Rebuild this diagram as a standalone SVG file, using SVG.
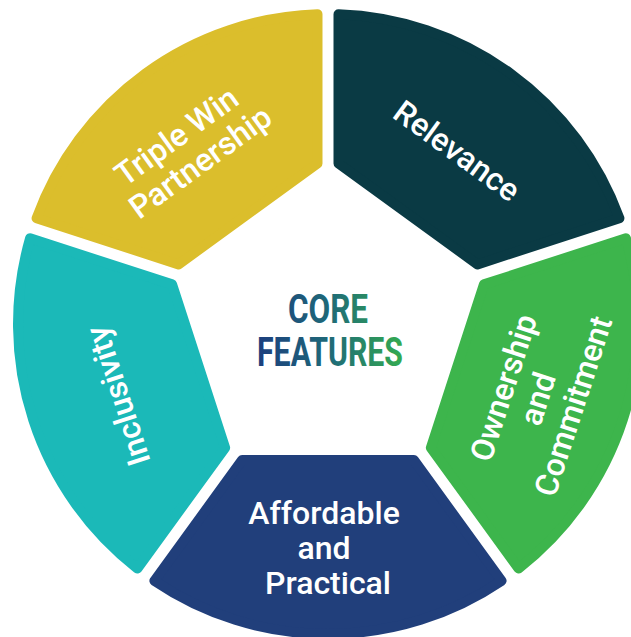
<svg xmlns="http://www.w3.org/2000/svg" width="631" height="637" viewBox="0 0 631 637">
  <style>
    .seg { stroke-width: 10; stroke-linejoin: round; }
    .yellow { fill: #DBBE2C; stroke: #DBBE2C; }
    .teal { fill: #0A3A44; stroke: #0A3A44; }
    .green { fill: #3DB54C; stroke: #3DB54C; }
    .blue { fill: #213F7B; stroke: #213F7B; }
    .cyan { fill: #1BB9B8; stroke: #1BB9B8; }
    .lbl { font-family: Roboto, "Liberation Sans", sans-serif; font-size: 32px; font-weight: 500; fill: #FFFFFF; text-anchor: middle; }
    .core { font-family: Roboto, "Liberation Sans", sans-serif; font-size: 41px; font-weight: 700; fill: url(#coreGrad); text-anchor: middle; }
  </style>
  <defs>
    <path id="seg" d="M -85.87,-136.06 L -173.61,-256.82 A 310 310 0 0 1 173.61,-256.82 L 85.87,-136.06 Z"/>
    <linearGradient id="coreGrad" gradientUnits="userSpaceOnUse" x1="257" y1="0" x2="403" y2="0">
      <stop offset="0" stop-color="#1C3E7E"/>
      <stop offset="0.5" stop-color="#1F6A78"/>
      <stop offset="1" stop-color="#34AB50"/>
    </linearGradient>
  </defs>

  <g id="relevance">
    <use href="#seg" class="seg teal" transform="translate(328,324) rotate(36)"/>
    <text class="lbl" transform="translate(457,151) rotate(36)" y="11">Relevance</text>
  </g>

  <g id="ownership-commitment">
    <use href="#seg" class="seg green" transform="translate(328,324) rotate(108)"/>
    <text class="lbl" transform="translate(539,395) rotate(-72)">
      <tspan x="0" y="-25">Ownership</tspan>
      <tspan x="0" y="11">and</tspan>
      <tspan x="0" y="47">Commitment</tspan>
    </text>
  </g>

  <g id="affordable-practical">
    <use href="#seg" class="seg blue" transform="translate(328,324) rotate(180)"/>
    <text class="lbl">
      <tspan x="328" y="524">Affordable</tspan>
      <tspan x="328" y="559">and</tspan>
      <tspan x="328" y="594">Practical</tspan>
    </text>
  </g>

  <g id="inclusivity">
    <use href="#seg" class="seg cyan" transform="translate(328,324) rotate(252)"/>
    <text class="lbl" transform="translate(118,396) rotate(-108)" y="11">Inclusivity</text>
  </g>

  <g id="triple-win-partnership">
    <use href="#seg" class="seg yellow" transform="translate(328,324) rotate(-36)"/>
    <text class="lbl" transform="translate(190,148) rotate(-36)">
      <tspan x="0" y="-6.5">Triple Win</tspan>
      <tspan x="0" y="28.5">Partnership</tspan>
    </text>
  </g>

  <g id="core-features">
    <text class="core" x="328" y="323" textLength="80" lengthAdjust="spacingAndGlyphs">CORE</text>
    <text class="core" x="330" y="366" textLength="146" lengthAdjust="spacingAndGlyphs">FEATURES</text>
  </g>
</svg>
